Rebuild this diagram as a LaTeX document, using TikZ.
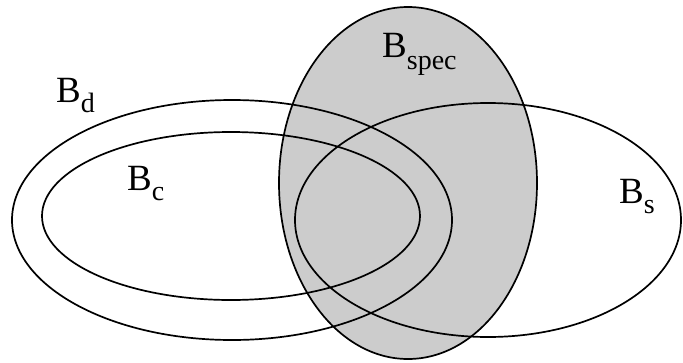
\documentclass[tikz,border=0pt]{standalone}
\usepackage{fontspec}
\setmainfont{Liberation Serif}
\usetikzlibrary{shapes.geometric}
\definecolor{specgray}{RGB}{204,204,204}
\tikzset{
  setline/.style={draw=black, line width=1.7pt},
  setshape/.style={ellipse, inner sep=0pt, outer sep=0pt},
  setlabel/.style={inner sep=0pt, anchor=base west},
}
\newcommand{\setname}[3]{{\fontsize{37}{40}\selectfont B}\raisebox{-#3pt}{\fontsize{28}{30}\selectfont #1}}
\begin{document}
\begin{tikzpicture}[x=1pt,y=-1pt]
\useasboundingbox (0,0) rectangle (683,362);
% shaded B_spec
\node[setshape, fill=specgray, minimum width=258pt, minimum height=352pt] (specfill) at (408,183) {};
% outlines
\node[setshape, setline, minimum width=440pt, minimum height=240pt] (bd) at (232,220) {};
\node[setshape, setline, minimum width=378pt, minimum height=168pt] (bc) at (231,216) {};
\node[setshape, setline, minimum width=386pt, minimum height=234pt] (bs) at (488,220) {};
\node[setshape, setline, minimum width=258pt, minimum height=352pt] (bspec) at (408,183) {};
% labels
\node[setlabel] (lspec) at (382,57) {\setname{spec}{}{12}};
\node[setlabel] (ld) at (56,102) {\setname{d}{}{10}};
\node[setlabel] (lc) at (127,190) {\setname{c}{}{10}};
\node[setlabel] (ls) at (619,203) {\setname{s}{}{10}};
\end{tikzpicture}
\end{document}
